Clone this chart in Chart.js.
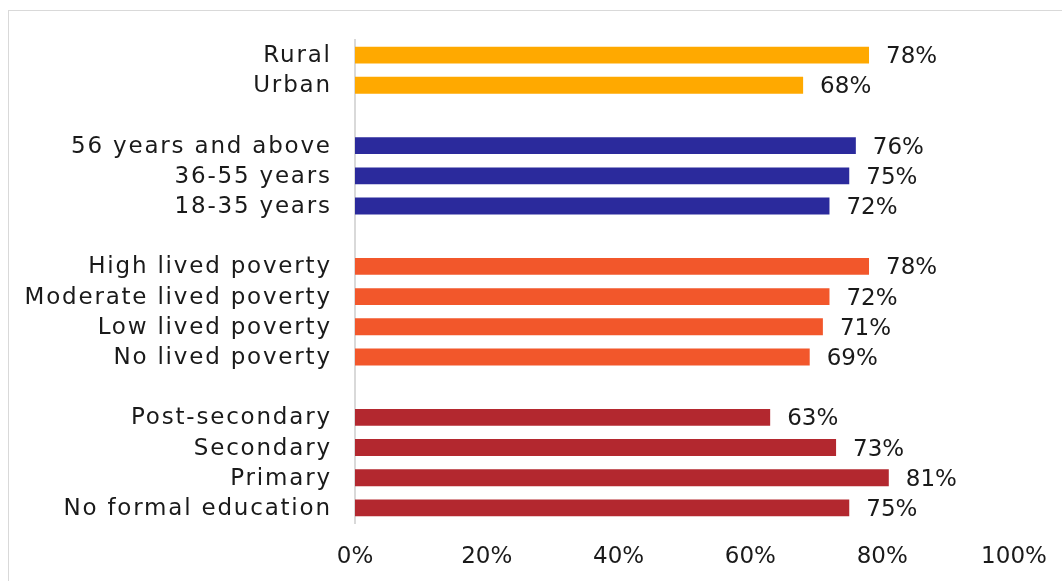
<!DOCTYPE html>
<html>
<head>
<meta charset="utf-8">
<script src="https://cdn.jsdelivr.net/npm/chart.js@4.4.1/dist/chart.umd.min.js"></script>
<style>
  html, body { margin: 0; padding: 0; background: #fff; overflow: hidden; }
  #wrap { position: relative; width: 1062px; height: 581px; overflow: hidden; }
  #frame { position: absolute; left: 8px; top: 10px; width: 1200px; height: 700px; border: 1px solid #d9d9d9; box-sizing: border-box; }
  #c { position: absolute; left: 0; top: 0; }
</style>
</head>
<body>
<div id="wrap">
  <div id="frame"></div>
  <canvas id="c" width="1062" height="600"></canvas>
</div>
<script>
const categories = [
  'Rural', 'Urban', '',
  '56 years and above', '36-55 years', '18-35 years', '',
  'High lived poverty', 'Moderate lived poverty', 'Low lived poverty', 'No lived poverty', '',
  'Post-secondary', 'Secondary', 'Primary', 'No formal education'
];
const values = [
  78, 68, null,
  76, 75, 72, null,
  78, 72, 71, 69, null,
  63, 73, 81, 75
];
const groupColors = {
  location: '#FFA900',
  age: '#2B2A9C',
  poverty: '#F2572B',
  education: '#B3282F'
};
const barGroups = [
  'location', 'location', null,
  'age', 'age', 'age', null,
  'poverty', 'poverty', 'poverty', 'poverty', null,
  'education', 'education', 'education', 'education'
];
const xTicks = [0, 20, 40, 60, 80, 100];

const FONT = "'DejaVu Sans', sans-serif";
const TEXT = '#1a1a1a';

const labelsPlugin = {
  id: 'labelsPlugin',
  afterDatasetsDraw(chart) {
    const ctx = chart.ctx;
    const meta = chart.getDatasetMeta(0);
    const yScale = chart.scales.y;
    ctx.save();
    // value labels
    ctx.font = '23px ' + FONT;
    ctx.fillStyle = TEXT;
    ctx.textAlign = 'left';
    ctx.textBaseline = 'middle';
    meta.data.forEach((bar, i) => {
      const v = values[i];
      if (v === null || v === undefined) return;
      ctx.fillText(v + '%', bar.x + 17, bar.y + 2);
    });
    // category labels (wider, spaced like the original typeface)
    ctx.letterSpacing = '1.8px';
    ctx.textAlign = 'right';
    categories.forEach((c, i) => {
      if (!c) return;
      ctx.fillText(c, yScale.right - 25 + 1.8, yScale.getPixelForValue(i) + 1);
    });
    ctx.restore();
  }
};

new Chart(document.getElementById('c'), {
  type: 'bar',
  data: {
    labels: categories,
    datasets: [{
      data: values,
      backgroundColor: barGroups.map(g => g ? groupColors[g] : 'rgba(0,0,0,0)'),
      barPercentage: 0.56,
      categoryPercentage: 1.0
    }]
  },
  options: {
    indexAxis: 'y',
    responsive: false,
    animation: false,
    layout: { padding: { left: 0, right: 48, top: 40, bottom: 0 } },
    plugins: { legend: { display: false }, tooltip: { enabled: false } },
    scales: {
      x: {
        min: 0, max: 100,
        afterBuildTicks(scale) { scale.ticks = xTicks.map(v => ({ value: v })); },
        afterFit(scale) { scale.height = 77; scale.paddingRight = 0; scale.paddingLeft = 0; },
        grid: { display: false, drawTicks: false },
        border: { display: false },
        ticks: {
          padding: 20,
          color: TEXT,
          font: { family: FONT, size: 23 },
          callback: v => v + '%',
          maxRotation: 0
        }
      },
      y: {
        afterFit(scale) { scale.width = 355; },
        grid: { display: false, drawTicks: false },
        border: { display: true, color: '#d9d9d9', width: 2 },
        ticks: { display: false }
      }
    }
  },
  plugins: [labelsPlugin]
});
</script>
</body>
</html>
